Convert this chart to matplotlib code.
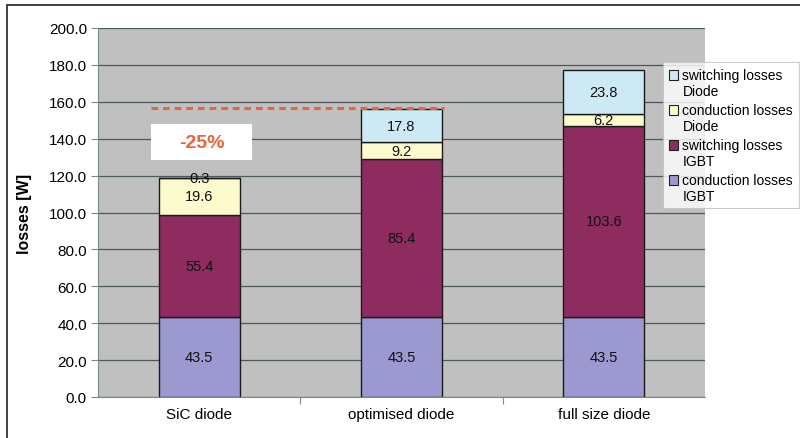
import matplotlib.pyplot as plt
from matplotlib.patches import Rectangle
import numpy as np

plt.rcParams['font.family'] = ['Liberation Sans', 'DejaVu Sans']

# stacked loss components per diode variant
categories = ["SiC diode", "optimised diode", "full size diode"]
cond_igbt = [43.5, 43.5, 43.5]
sw_igbt = [55.4, 85.4, 103.6]
cond_diode = [19.6, 9.2, 6.2]
sw_diode = [0.3, 17.8, 23.8]

series = [
    ("conduction losses\nIGBT", cond_igbt, "#9c99d0"),
    ("switching losses\nIGBT", sw_igbt, "#8e2c5f"),
    ("conduction losses\nDiode", cond_diode, "#fdfbcd"),
    ("switching losses\nDiode", sw_diode, "#cde9f3"),
]

reference_level = 156.6
reduction_text = "-25%"

fig = plt.figure(figsize=(8, 4.39), dpi=100)
ax = fig.add_axes([98 / 800, 41 / 439, 607 / 800, 369 / 439])
ax.set_facecolor("#c0c0c0")

x = np.arange(len(categories))
bottom = np.zeros(len(categories))
handles = []
for label, vals, color in series:
    vals = np.array(vals)
    bars = ax.bar(x, vals, width=0.4, bottom=bottom, color=color,
                  edgecolor="#1a1a1a", linewidth=1.0, label=label, zorder=3)
    handles.append(bars)
    for xi, b, v in zip(x, bottom, vals):
        ax.text(xi, b + v / 2, f"{v:.1f}", ha="center", va="center",
                fontsize=10.5, color="#111111", zorder=4)
    bottom += vals

ax.set_xlim(-0.5, 2.5)
ax.set_ylim(0, 200)
ax.set_yticks(np.arange(0, 201, 20))
ax.set_yticklabels([f"{v:.1f}" for v in np.arange(0, 201, 20)], fontsize=11)
ax.yaxis.grid(True, color="#4a5a5a", linewidth=0.9, zorder=0)
ax.set_xticks([0.5, 1.5], minor=False)
ax.set_xticklabels([])
ax.tick_params(axis="x", length=5, color="#7a8a8a")
ax.tick_params(axis="y", length=5, color="#7a8a8a", pad=3)
for xi, c in zip(x, categories):
    ax.text(xi, -5.5, c, ha="center", va="top", fontsize=11,
            transform=ax.transData)
for s in ["top", "right"]:
    ax.spines[s].set_visible(False)
ax.spines["left"].set_color("#7a8a8a")
ax.spines["bottom"].set_color("#7a8a8a")

ax.set_ylabel("losses [W]", fontsize=11.5, fontweight="bold", labelpad=12)

# reference level and reduction annotation
ax.plot([-0.24, 1.21], [reference_level, reference_level], color="#e8643a",
        linewidth=2.2, linestyle=(0, (2.2, 1.6)), zorder=5)
ax.add_patch(Rectangle((-0.238, 128.5), 0.5, 19.5, facecolor="white",
                       edgecolor="none", zorder=5))
ax.text(0.012, 138.2, reduction_text, ha="center", va="center", fontsize=14,
        fontweight="bold", color="#e8643a", zorder=6)

leg = fig.legend(handles[::-1], [s[0] for s in series][::-1],
                 loc="upper left", bbox_to_anchor=(663 / 800, 1 - 63 / 439),
                 fontsize=10, frameon=True, fancybox=False, handlelength=0.7,
                 handleheight=0.7, handletextpad=0.3, borderpad=0.4,
                 labelspacing=0.35, borderaxespad=0)
leg.get_frame().set_edgecolor("#c0c0c0")
leg.get_frame().set_linewidth(0.8)
# put each swatch beside the first line of its label
for p in leg.get_patches():
    p.set_edgecolor("#222222")
    p.set_linewidth(0.8)
    p.set_y(p.get_y() + 6)

# outer chart frame
fig.patches.append(Rectangle((7 / 800, -0.05), 1.0, 1 - 6 / 439 + 0.05,
                             transform=fig.transFigure, fill=False,
                             edgecolor="#222222", linewidth=1.2))

fig.savefig("out.png", dpi=100)
